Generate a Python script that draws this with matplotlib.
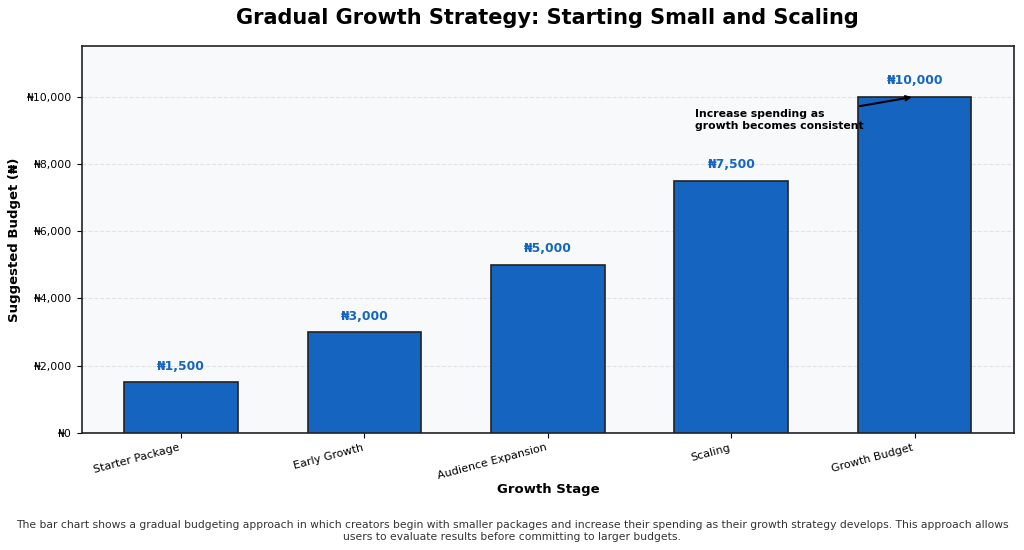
import matplotlib.pyplot as plt
from matplotlib.ticker import FuncFormatter

stages = ['Starter Package', 'Early Growth', 'Audience Expansion', 'Scaling', 'Growth Budget']
budgets = [1500, 3000, 5000, 7500, 10000]

title = 'Gradual Growth Strategy: Starting Small and Scaling'
caption = ('The bar chart shows a gradual budgeting approach in which creators begin with smaller '
           'packages and increase their spending as their growth strategy develops. This approach allows\n'
           'users to evaluate results before committing to larger budgets.')
note = 'Increase spending as\ngrowth becomes consistent'

blue = '#1565C0'

fig, ax = plt.subplots(figsize=(10.24, 5.5), dpi=100)
fig.subplots_adjust(left=0.08, right=0.99, top=0.916, bottom=0.213)
ax.set_facecolor('#f8f9fb')

x = range(len(stages))
ax.bar(x, budgets, width=0.62, color=blue, edgecolor='#222222', linewidth=1.2, zorder=3)
for i, v in zip(x, budgets):
    ax.text(i, v + 280, '₦{:,}'.format(v), ha='center', va='bottom',
            fontsize=8.8, fontweight='bold', color=blue)

ax.set_ylim(0, max(budgets) * 1.15)
ax.yaxis.set_major_formatter(FuncFormatter(lambda v, p: '₦{:,.0f}'.format(v)))
ax.tick_params(axis='y', labelsize=7.8)
ax.set_xticks(list(x))
ax.set_xticklabels(stages, rotation=15, ha='right', fontsize=8)
ax.grid(axis='y', linestyle='--', alpha=0.3, zorder=0)

for s in ax.spines.values():
    s.set_color('#222222')
    s.set_linewidth(1.2)

ax.set_title(title, fontsize=15, fontweight='bold', pad=16)
ax.set_xlabel('Growth Stage', fontsize=9.5, fontweight='bold', labelpad=1)
ax.set_ylabel('Suggested Budget (₦)', fontsize=9.5, fontweight='bold')

ax.annotate(note, xy=(4, budgets[-1]), xytext=(2.8, 9300),
            fontsize=7.8, fontweight='bold', va='center', ha='left',
            arrowprops=dict(arrowstyle='->', color='black', lw=1.5))

fig.text(0.5, 0.015, caption, ha='center', va='bottom', fontsize=7.75, color='#333333')

fig.savefig('out.png')
